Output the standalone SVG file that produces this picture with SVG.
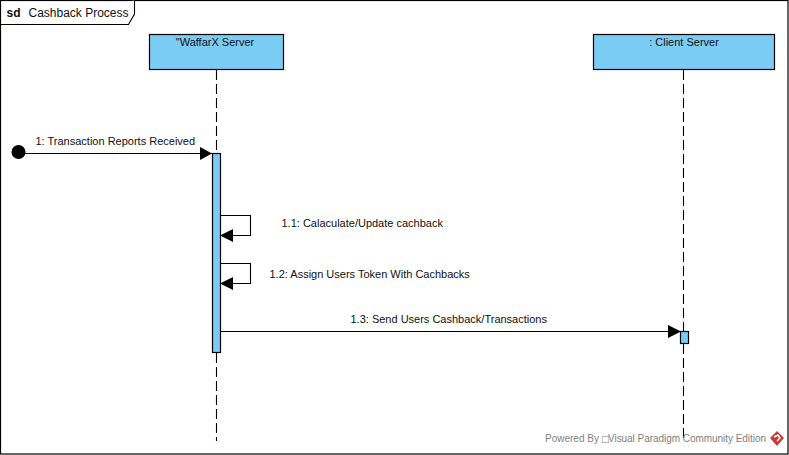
<svg xmlns="http://www.w3.org/2000/svg" width="789" height="455" viewBox="0 0 789 455">
<style>
text{font-family:"Liberation Sans",Arial,sans-serif;font-size:11px;fill:#111}
.box{fill:#7accf5;stroke:#000;stroke-width:1.2}
.ln{fill:none;stroke:#000;stroke-width:1.1}
.life{fill:none;stroke:#000;stroke-width:1.1;stroke-dasharray:10 4}
.head{fill:#000;stroke:none}
.c{text-anchor:middle}
.wm{font-size:10px;fill:#7f7f7f}
</style>
<rect x="0" y="0" width="789" height="455" fill="#fff"/>
<g id="frame">
<rect x="0.5" y="0.5" width="787.5" height="453.5" fill="none" stroke="#000" stroke-width="1.2"/>
<path d="M0.5 24.500H128.500L134.500 14V0.5" fill="#fff" stroke="#000" stroke-width="1.1"/>
<text x="6.500" y="17" style="font-weight:bold;font-size:12px">sd</text>
<text x="28.500" y="17" style="font-size:12px">Cashback Process</text>
</g>
<g id="connectors">
<path class="life" d="M216.500 70V153M216.500 353V441"/>
<path class="life" d="M683.500 70V331M683.500 344V441"/>
<path class="ln" d="M19 153.500H212"/>
<polygon class="head" points="200,147 212,153.500 200,160"/>
<path class="ln" d="M220 215.500H250.500V235.500H221"/>
<polygon class="head" points="220,235.500 233,229 233,242"/>
<path class="ln" d="M220 263.500H250.500V283.500H221"/>
<polygon class="head" points="220,283.500 233,277 233,290"/>
<path class="ln" d="M220 331.500H680"/>
<polygon class="head" points="668,325 681,331.500 668,338"/>
</g>
<g id="start"><circle cx="18.500" cy="152" r="7" fill="#000"/></g>
<g id="waffarx"><rect class="box" x="149.500" y="34.500" width="134" height="35"/><text class="c" x="215" y="46">"WaffarX Server</text></g>
<g id="client"><rect class="box" x="593.500" y="34.500" width="181" height="35"/><text class="c" x="684" y="46">: Client Server</text></g>
<g id="activation-waffarx"><rect class="box" x="212.500" y="153.500" width="8" height="199"/></g>
<g id="activation-client"><rect class="box" x="680.500" y="331.500" width="8" height="12"/></g>
<g id="labels">
<text x="35.500" y="145">1: Transaction Reports Received</text>
<text x="281.500" y="227">1.1: Calaculate/Update cachback</text>
<text x="269.500" y="278">1.2: Assign Users Token With Cachbacks</text>
<text x="350.500" y="323">1.3: Send Users Cashback/Transactions</text>
</g>
<g id="watermark">
<text class="wm" x="545" y="442">Powered By</text>
<text class="wm" x="601" y="442" style="font-family:'DejaVu Sans',sans-serif;font-size:9px">□</text>
<text class="wm" x="608" y="442" textLength="158" lengthAdjust="spacing">Visual Paradigm Community Edition</text>
<polygon points="777,431 784,438 777,446 770,438" fill="#c8393b"/>
<path d="M774 437L778 435L780 438L777 441" fill="none" stroke="#fff" stroke-width="1.500"/>
</g>
</svg>
